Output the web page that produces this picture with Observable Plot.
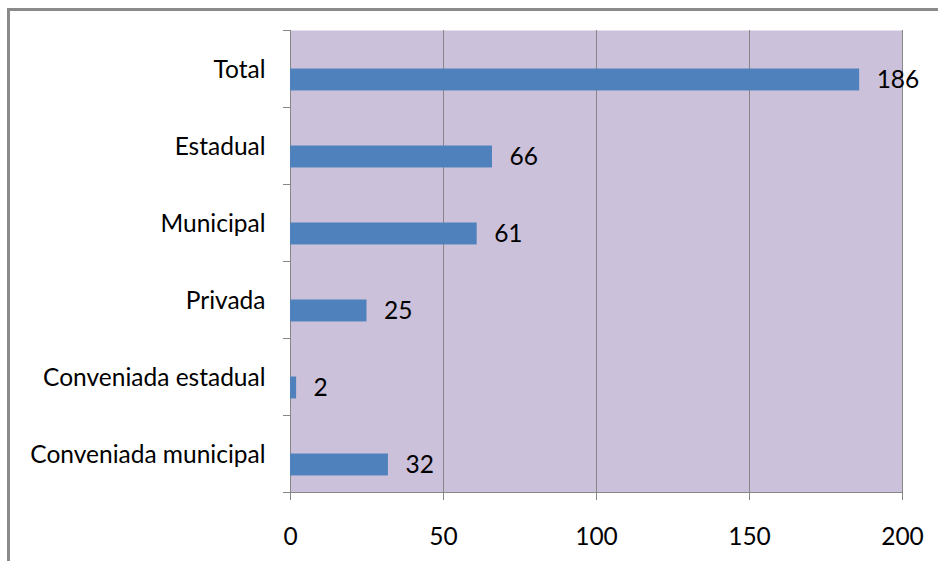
<!DOCTYPE html>
<html>
<head>
<meta charset="utf-8">
<script src="https://cdn.jsdelivr.net/npm/d3@7"></script>
<script src="https://cdn.jsdelivr.net/npm/@observablehq/plot@0.6"></script>
<style>
  html, body { margin: 0; padding: 0; background: #fff; overflow: hidden; }
  #wrap { position: relative; width: 938px; height: 561px; }
  #frame { position: absolute; left: 7px; top: 8px; width: 1000px; height: 600px;
           border-left: 3px solid #8a8a8a; border-top: 3px solid #8a8a8a; box-sizing: border-box; }
  #chart { position: absolute; left: 0; top: 0; }
</style>
</head>
<body>
<div id="wrap"><div id="frame"></div><div id="chart"></div></div>
<script>
const categories = ["Total", "Estadual", "Municipal", "Privada", "Conveniada estadual", "Conveniada municipal"];
const values = [186, 66, 61, 25, 2, 32];
const xTicks = [0, 50, 100, 150, 200];

const data = categories.map((c, i) => ({category: c, index: i, value: values[i]}));
const gray = "#868686";
const font = "Lato, 'Open Sans', sans-serif";
const fs = 24.5;

const plot = Plot.plot({
  width: 938,
  height: 561,
  marginLeft: 290,
  marginRight: 36,
  marginTop: 30,
  marginBottom: 69,
  style: {fontFamily: font, fontSize: fs + "px", color: "#000", background: "transparent"},
  x: {domain: [0, 200], label: null},
  y: {domain: [0, categories.length], reverse: true, label: null},
  marks: [
    Plot.frame({fill: "#CCC1DA", stroke: null}),
    Plot.ruleX(xTicks, {stroke: gray, strokeWidth: 1}),
    Plot.ruleY([categories.length], {stroke: gray, strokeWidth: 1}),
    Plot.rectX(data, {x1: 0, x2: "value", y1: d => d.index + 0.5, y2: d => d.index + 0.785, fill: "#4F81BD"}),
    Plot.text(data, {x: "value", y: d => d.index + 0.645, text: d => String(d.value), textAnchor: "start", dx: 17, fill: "#000", fontSize: fs}),
    Plot.axisY(d3.range(categories.length + 1), {tickSize: 7, stroke: gray, tickFormat: () => "", anchor: "left", label: null}),
    Plot.axisY(categories.map((c, i) => i + 0.5), {tickSize: 0, tickPadding: 25, tickFormat: v => categories[v - 0.5], anchor: "left", fill: "#000", fontSize: fs, label: null, dy: 1}),
    Plot.axisX(xTicks, {tickSize: 8, stroke: gray, tickFormat: () => "", anchor: "bottom", label: null}),
    Plot.axisX(xTicks, {tickSize: 0, tickPadding: 35, anchor: "bottom", fill: "#000", fontSize: fs, label: null})
  ]
});
document.getElementById("chart").append(plot);
</script>
</body>
</html>
